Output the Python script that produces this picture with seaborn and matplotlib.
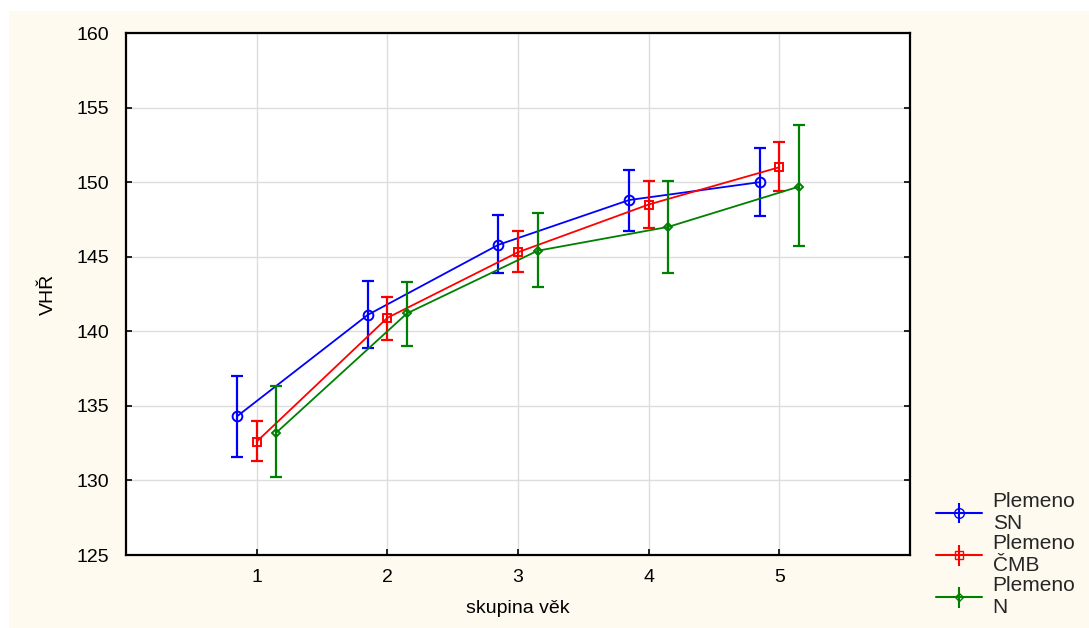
import numpy as np
import pandas as pd
import matplotlib.pyplot as plt
import seaborn as sns
from matplotlib.patches import Rectangle

# data
groups = [1, 2, 3, 4, 5]
series = ['Plemeno\nSN', 'Plemeno\nČMB', 'Plemeno\nN']
mean_sn = [134.3, 141.1, 145.8, 148.8, 150.0]
low_sn = [131.6, 138.9, 143.9, 146.7, 147.7]
high_sn = [137.0, 143.4, 147.8, 150.8, 152.3]
mean_cmb = [132.6, 140.9, 145.3, 148.5, 151.0]
low_cmb = [131.3, 139.4, 144.0, 146.9, 149.4]
high_cmb = [134.0, 142.3, 146.7, 150.1, 152.7]
mean_n = [133.2, 141.2, 145.4, 147.0, 149.7]
low_n = [130.2, 139.0, 143.0, 143.9, 145.7]
high_n = [136.3, 143.3, 147.9, 150.1, 153.8]

offsets = [-0.15, 0.0, 0.15]
colors = ['#0000ff', '#ff0000', '#008000']
markers = ['o', 's', 'D']
msizes = [7, 6, 4.5]

rows = []
for name, m, lo, hi, off in zip(series,
                                [mean_sn, mean_cmb, mean_n],
                                [low_sn, low_cmb, low_n],
                                [high_sn, high_cmb, high_n],
                                offsets):
    for g, a, b, c in zip(groups, m, lo, hi):
        rows.append({'skupina': g + off, 'VHR': a, 'low': b, 'high': c, 'Plemeno': name})
df = pd.DataFrame(rows)

sns.set_theme(style="whitegrid")
plt.rcParams['font.family'] = ['Liberation Sans', 'DejaVu Sans']

fig = plt.figure(figsize=(10.89, 6.28), dpi=100, facecolor='white')
fig.patches.append(Rectangle((9 / 1089, 0), 1, 1 - 11 / 628, transform=fig.transFigure,
                             facecolor='#fffaf0', edgecolor='none', zorder=-10))
ax = fig.add_axes([126 / 1089, 1 - 555 / 628, (910 - 126) / 1089, (555 - 33) / 628])
ax.set_facecolor('white')

handles = []
for name, col, mk, ms in zip(series, colors, markers, msizes):
    d = df[df['Plemeno'] == name]
    sns.lineplot(data=d, x='skupina', y='VHR', color=col, ax=ax, linewidth=1.3,
                 marker=mk, markersize=ms, markerfacecolor='none', markeredgecolor=col,
                 markeredgewidth=1.4, legend=False)
    ax.errorbar(d['skupina'], d['VHR'],
                yerr=[d['VHR'] - d['low'], d['high'] - d['VHR']],
                fmt='none', ecolor=col, elinewidth=1.6, capsize=4.5, capthick=1.6)
    h = ax.errorbar([], [], yerr=[], color=col, marker=mk, markersize=ms,
                    markerfacecolor='none', markeredgecolor=col, linewidth=1.5,
                    capsize=7, capthick=1.5, label=name)
    handles.append(h)

ax.set_xlim(0, 6)
ax.set_ylim(125, 160)
ax.set_xticks(groups)
ax.set_yticks(np.arange(125, 161, 5))
ax.grid(True, color='#dddddd', linewidth=1)
for s in ax.spines.values():
    s.set_visible(True)
    s.set_color('black')
    s.set_linewidth(1.6)
ax.tick_params(axis='both', direction='in', length=4, width=1.2, colors='black',
               labelsize=14, labelcolor='black', right=True, left=True, bottom=True)
ax.tick_params(axis='y', pad=12)
ax.tick_params(axis='x', pad=10)
ax.set_xlabel('skupina věk', fontsize=14, color='black', labelpad=10)
ax.set_ylabel('VHŘ', fontsize=14, color='black', labelpad=14)

fig.legend(handles=handles, labels=series, loc='upper left',
           bbox_to_anchor=(928 / 1089, 1 - 484 / 628), frameon=False, fontsize=15,
           handlelength=2.2, labelspacing=0.05, handletextpad=0.5, borderaxespad=0)

fig.savefig('out.png', dpi=100, facecolor=fig.get_facecolor())
